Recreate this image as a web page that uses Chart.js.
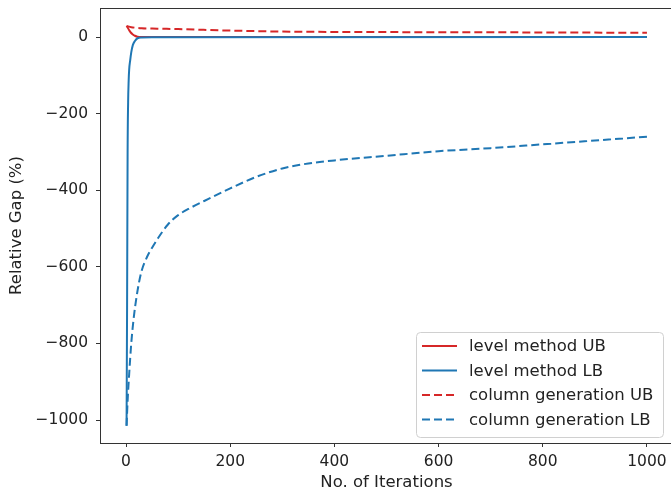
<!DOCTYPE html>
<html lang="en">
<head>
    <meta charset="UTF-8">
    <title>Relative Gap</title>
    <script src="https://cdn.jsdelivr.net/npm/chart.js"></script>
    <style>
        body {
            margin: 0;
            background: #fff;
            overflow: hidden;
            width: 671px;
            height: 493px;
        }
        #wrap {
            width: 700px;
            height: 493px;
        }
    </style>
</head>
<body>
    <div id="wrap"><canvas id="gapChart" width="700" height="493"></canvas></div>

    <script>
        // values
        const levelUbIters  = [1, 3, 6, 9, 13, 17, 22, 30, 1000];
        const levelUbValues = [29, 25, 18, 12, 7, 3.5, 1, 0.3, 0];

        const levelLbIters  = [1, 2, 3, 4, 5, 6, 8, 10, 13, 17, 22, 30, 50, 1000];
        const levelLbValues = [-1015, -700, -300, -170, -115, -85, -60, -40, -21, -10, -3, -1, -0.3, 0];

        const cgUbIters  = [1, 10, 30, 60, 100, 200, 300, 400, 600, 800, 1000];
        const cgUbValues = [29, 26, 23, 22, 21, 17, 14.5, 13.5, 12.8, 12.2, 11.2];

        const cgLbIters  = [1, 3, 6, 10, 15, 20, 25, 30, 40, 50, 60, 80, 100, 125, 150, 200, 250, 300, 350, 400, 500, 600, 700, 800, 900, 1000];
        const cgLbValues = [-1015, -950, -880, -800, -730, -680, -640, -610, -575, -550, -528, -490, -465, -445, -428, -395, -365, -343, -330, -322, -310, -298, -290, -280, -270, -260];

        const xTicks = [0, 200, 400, 600, 800, 1000];
        const yTicks = [-1000, -800, -600, -400, -200, 0];

        const seriesLabels = ['level method UB', 'level method LB', 'column generation UB', 'column generation LB'];

        const RED = '#d62728';
        const BLUE = '#1f77b4';
        const FONT = 'DejaVu Sans';
        const AXIS = '#333';
        const TICK_SIZE = 15.5;
        const TEXT_SIZE = 16.5;

        function pts(xs, ys) {
            return xs.map((x, i) => ({ x: x, y: ys[i] }));
        }

        // box around the plot like matplotlib spines
        const framePlugin = {
            id: 'frame',
            afterDraw(chart) {
                const a = chart.chartArea;
                const ctx = chart.ctx;
                ctx.save();
                ctx.strokeStyle = AXIS;
                ctx.lineWidth = 1;
                ctx.strokeRect(a.left + 0.5, a.top + 0.5, a.right - a.left, a.bottom - a.top);
                ctx.restore();
            }
        };

        // legend box in the lower right corner
        const legendPlugin = {
            id: 'boxLegend',
            afterDraw(chart) {
                const ctx = chart.ctx;
                const x0 = 416, y0 = 332, w = 247, h = 105, r = 4;
                ctx.save();
                ctx.beginPath();
                ctx.roundRect(x0 + 0.5, y0 + 0.5, w, h, r);
                ctx.fillStyle = 'rgba(255,255,255,0.8)';
                ctx.fill();
                ctx.strokeStyle = '#d0d0d0';
                ctx.lineWidth = 1;
                ctx.stroke();

                const rows = [346, 370.5, 395, 419.5];
                chart.data.datasets.forEach((ds, i) => {
                    const y = rows[i];
                    ctx.beginPath();
                    ctx.setLineDash(ds.borderDash || []);
                    ctx.strokeStyle = ds.borderColor;
                    ctx.lineWidth = ds.borderWidth;
                    ctx.moveTo(422, y);
                    ctx.lineTo(457, y);
                    ctx.stroke();
                    ctx.setLineDash([]);
                    ctx.fillStyle = '#222';
                    ctx.font = TEXT_SIZE + 'px "' + FONT + '"';
                    ctx.textBaseline = 'middle';
                    ctx.textAlign = 'left';
                    ctx.fillText(ds.label, 469, y + 1);
                });
                ctx.restore();
            }
        };

        function minusFmt(v) {
            return v < 0 ? '\u2212' + Math.abs(v) : String(v);
        }

        const ctx = document.getElementById('gapChart').getContext('2d');
        new Chart(ctx, {
            type: 'line',
            data: {
                datasets: [
                    {
                        label: seriesLabels[0],
                        data: pts(levelUbIters, levelUbValues),
                        borderColor: RED,
                        borderWidth: 2,
                        order: 3
                    },
                    {
                        label: seriesLabels[1],
                        data: pts(levelLbIters, levelLbValues),
                        borderColor: BLUE,
                        borderWidth: 2,
                        order: 2
                    },
                    {
                        label: seriesLabels[2],
                        data: pts(cgUbIters, cgUbValues),
                        borderColor: RED,
                        borderWidth: 2,
                        borderDash: [8, 4],
                        order: 1
                    },
                    {
                        label: seriesLabels[3],
                        data: pts(cgLbIters, cgLbValues),
                        borderColor: BLUE,
                        borderWidth: 2,
                        borderDash: [8, 4],
                        order: 0
                    }
                ]
            },
            options: {
                responsive: false,
                animation: false,
                layout: { padding: { top: 8, right: 27, left: 0, bottom: 0 } },
                elements: {
                    point: { radius: 0 },
                    line: { cubicInterpolationMode: 'monotone', fill: false }
                },
                plugins: {
                    legend: { display: false },
                    tooltip: { enabled: false }
                },
                scales: {
                    x: {
                        type: 'linear',
                        min: -50,
                        max: 1050,
                        afterBuildTicks(s) { s.ticks = xTicks.map(v => ({ value: v })); },
                        afterFit(s) {
                            s.height = 50;
                            s.paddingLeft = 0;
                            s.paddingRight = 0;
                        },
                        border: { display: false },
                        grid: { display: true, drawOnChartArea: false, drawTicks: true, tickLength: 4, color: AXIS },
                        ticks: {
                            color: '#222',
                            padding: 6,
                            maxRotation: 0,
                            font: { family: FONT, size: TICK_SIZE },
                            callback: v => minusFmt(v)
                        },
                        title: {
                            display: true,
                            text: 'No. of Iterations',
                            color: '#222',
                            font: { family: FONT, size: TEXT_SIZE },
                            padding: { top: 0, bottom: 0 }
                        }
                    },
                    y: {
                        min: -1060,
                        max: 76,
                        afterBuildTicks(s) { s.ticks = yTicks.map(v => ({ value: v })); },
                        afterFit(s) {
                            s.width = 100;
                            s.paddingTop = 0;
                            s.paddingBottom = 0;
                        },
                        border: { display: false },
                        grid: { display: true, drawOnChartArea: false, drawTicks: true, tickLength: 4, color: AXIS },
                        ticks: {
                            color: '#222',
                            padding: 8,
                            font: { family: FONT, size: TICK_SIZE },
                            callback: v => minusFmt(v)
                        },
                        title: {
                            display: true,
                            text: 'Relative Gap (%)',
                            color: '#222',
                            font: { family: FONT, size: TEXT_SIZE },
                            padding: { top: 7, bottom: 0 }
                        }
                    }
                }
            },
            plugins: [framePlugin, legendPlugin]
        });
    </script>
</body>
</html>
